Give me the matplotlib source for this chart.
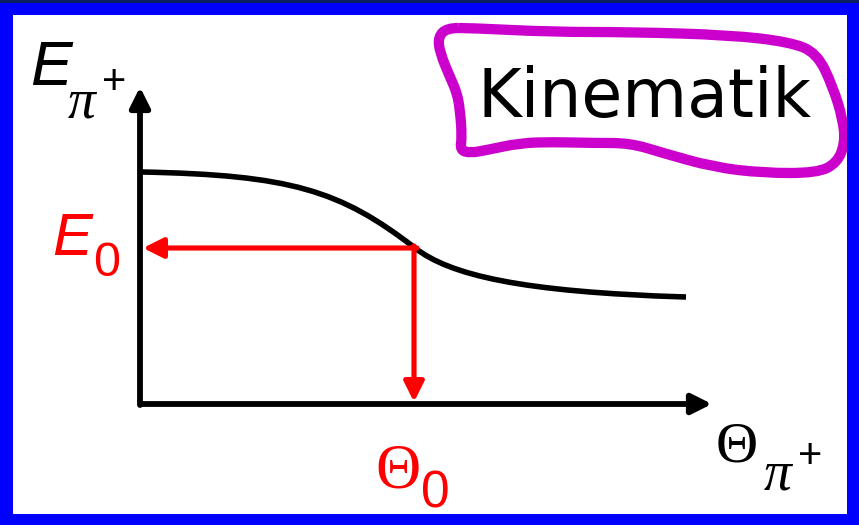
import matplotlib.pyplot as plt
from matplotlib.patches import Rectangle, PathPatch
from matplotlib.path import Path

curve_x = [142, 290, 340, 415, 450, 520, 686]
curve_y = [172, 175, 190, 248, 275, 292, 297]

# Arbeitspunkt (Theta_0, E_0)
theta0_x = 414
e0_y = 248

# Achsen
origin = (141, 404)
y_tip = 87
x_tip = 712

# Rahmen um "Kinematik" (Kontrollpunkte, geschlossen)
box_x = [470, 553, 630, 730, 790, 817, 833, 843, 845, 837, 817, 763, 713, 663, 630,
         593, 553, 520, 487, 470, 460, 462, 460, 457, 450, 440, 438, 447]
box_y = [28, 32, 32, 35, 42, 53, 87, 120, 143, 163, 173, 173, 167, 153, 143,
         143, 142, 143, 150, 153, 150, 137, 110, 93, 77, 53, 37, 28]

fig = plt.figure(figsize=(8.59, 5.25), dpi=100)
ax = fig.add_axes([0, 0, 1, 1])
ax.set_xlim(0, 859)
ax.set_ylim(525, 0)
ax.axis("off")

# blauer Rand
blue = "#0000FF"
ax.add_patch(Rectangle((0, 0), 859, 15, color=blue, lw=0, zorder=5))
ax.add_patch(Rectangle((0, 0), 859, 3, color="#0A1F60", lw=0, zorder=6))
ax.add_patch(Rectangle((0, 0), 13, 525, color=blue, lw=0, zorder=5))
ax.add_patch(Rectangle((847, 3), 12, 525, color=blue, lw=0, zorder=5))
ax.add_patch(Rectangle((0, 514), 859, 11, color=blue, lw=0, zorder=5))

# Achsen mit Pfeilen
arrow_k = dict(arrowstyle="-|>", color="black", lw=4.2, mutation_scale=30,
               shrinkA=0, shrinkB=0)
ax.annotate("", xy=(origin[0] - 1, y_tip), xytext=(origin[0] - 1, origin[1] + 1), arrowprops=arrow_k)
ax.annotate("", xy=(x_tip, origin[1]), xytext=(origin[0], origin[1]), arrowprops=arrow_k)

# Kurve
verts = list(zip(curve_x, curve_y))
codes = [Path.MOVETO] + [Path.CURVE4] * 6
ax.add_patch(PathPatch(Path(verts, codes), facecolor="none", edgecolor="black",
                       lw=4.0, capstyle="butt", zorder=3))

# rote Pfeile
arrow_r = dict(arrowstyle="-|>", color="red", lw=3.7, mutation_scale=30,
               shrinkA=0, shrinkB=0)
ax.annotate("", xy=(origin[0] + 2, e0_y), xytext=(theta0_x + 3, e0_y), arrowprops=arrow_r)
ax.annotate("", xy=(theta0_x, origin[1] - 2), xytext=(theta0_x, e0_y - 2), arrowprops=arrow_r)

# Beschriftungen
sans = "Liberation Sans"
serif = "Liberation Serif"
ax.text(30, 85, "E", fontsize=45, family=sans, style="italic", va="baseline")
ax.text(68, 117, "π", fontsize=40, family=serif, style="italic", va="baseline")
ax.text(114, 83, "+", fontsize=30, family=sans, ha="center", va="center")

ax.text(716, 462, "Θ", fontsize=42, family=serif, va="baseline")
ax.text(764, 490, "π", fontsize=40, family=serif, style="italic", va="baseline")
ax.text(810, 457, "+", fontsize=30, family=sans, ha="center", va="center")

ax.text(52, 255, "E", fontsize=43, family=sans, style="italic", color="red", va="baseline")
ax.text(93, 276, "0", fontsize=35, family=sans, color="red", va="baseline")

ax.text(375, 488, "Θ", fontsize=45, family=serif, color="red", va="baseline")
ax.text(421, 507, "0", fontsize=37, family=sans, color="red", va="baseline")

# Kinematik-Kasten: geglaettet ueber quadratische Bezier-Stuecke durch die Mittelpunkte
pts = list(zip(box_x, box_y))
n = len(pts)
mids = [((pts[i][0] + pts[(i + 1) % n][0]) / 2, (pts[i][1] + pts[(i + 1) % n][1]) / 2)
        for i in range(n)]
bverts = [mids[-1]]
bcodes = [Path.MOVETO]
for i in range(n):
    bverts += [pts[i], mids[i]]
    bcodes += [Path.CURVE3, Path.CURVE3]
ax.add_patch(PathPatch(Path(bverts, bcodes), facecolor="none", edgecolor="#CC00CC",
                       lw=7.4, joinstyle="round", zorder=3))
ax.text(644, 117, "Kinematik", fontsize=48, family="DejaVu Sans", ha="center",
        va="baseline")

fig.savefig("out.png", dpi=100, facecolor="white")
